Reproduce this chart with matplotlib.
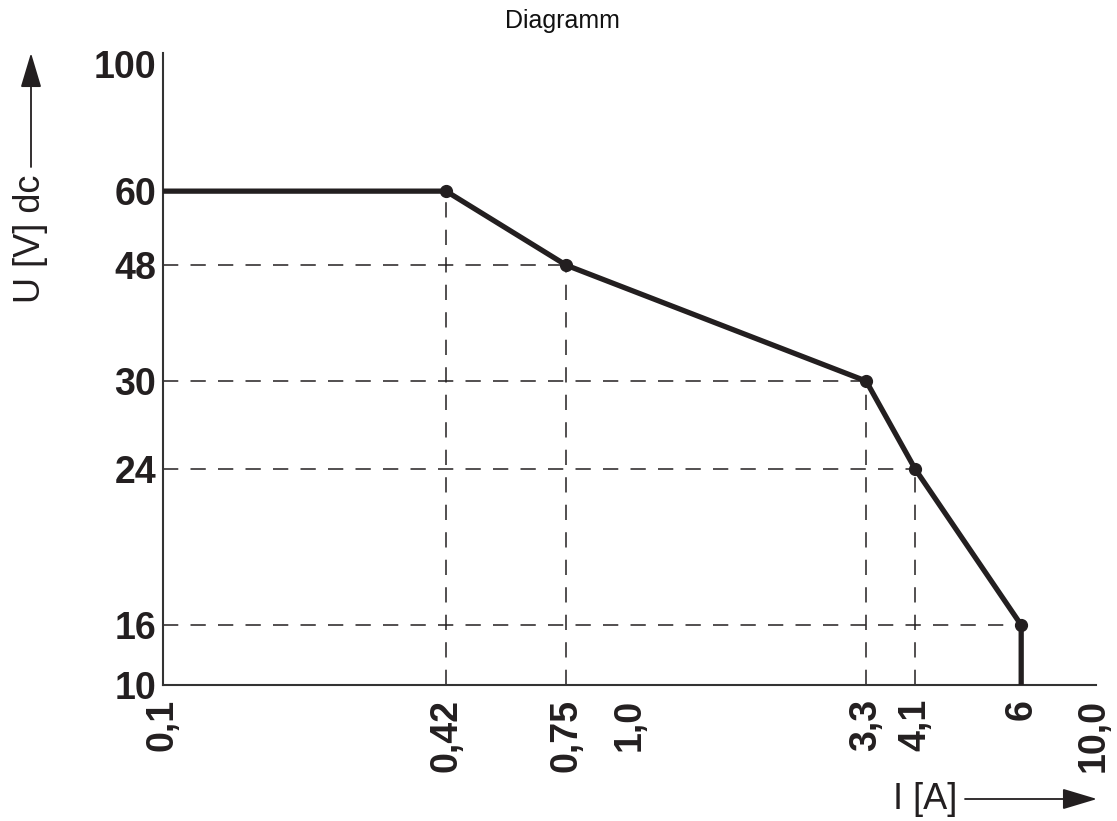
import numpy as np
import matplotlib.pyplot as plt
from matplotlib.patches import FancyArrowPatch
from matplotlib.ticker import FixedLocator, FixedFormatter

# derating curve U over I
current = [0.1, 0.42, 0.75, 3.3, 4.1, 6.0, 6.0]
voltage = [60, 60, 48, 30, 24, 16, 10]

# corner points that get guide lines / dots
guide_i = [0.42, 0.75, 3.3, 4.1, 6.0]
guide_u = [60, 48, 30, 24, 16]

x_ticks = [0.1, 0.42, 0.75, 1.0, 3.3, 4.1, 6.0, 10.0]
x_labels = ['0,1', '0,42', '0,75', '1,0', '3,3', '4,1', '6', '10,0']
y_ticks = [10, 16, 24, 30, 48, 60, 100]
y_labels = ['10', '16', '24', '30', '48', '60', '100']

# the drawing is not a true log grid, so calibrate the scale to it
x_cal_pos = [163, 446, 566, 630, 866, 915, 1021, 1093]
y_cal_pos = [136, 196, 352, 440, 556, 630, 757]

INK = '#231f20'


def calibrated_scale(vals, pos):
    lv = np.log10(np.asarray(vals, float))
    p = np.asarray(pos, float)
    s_lo = (p[1] - p[0]) / (lv[1] - lv[0])
    s_hi = (p[-1] - p[-2]) / (lv[-1] - lv[-2])

    def fwd(v):
        v = np.log10(np.clip(np.asarray(v, float), 1e-9, None))
        out = np.interp(v, lv, p)
        out = np.where(v < lv[0], p[0] + (v - lv[0]) * s_lo, out)
        out = np.where(v > lv[-1], p[-1] + (v - lv[-1]) * s_hi, out)
        return out

    def inv(q):
        q = np.asarray(q, float)
        out = np.interp(q, p, lv)
        out = np.where(q < p[0], lv[0] + (q - p[0]) / s_lo, out)
        out = np.where(q > p[-1], lv[-1] + (q - p[-1]) / s_hi, out)
        return 10 ** out

    return fwd, inv


W, H = 1117, 821
fig = plt.figure(figsize=(W / 100, H / 100), dpi=100)
ax = fig.add_axes([163 / W, (H - 685) / H, (1096 - 163) / W, (685 - 53) / H])

ax.set_xscale('function', functions=calibrated_scale(x_ticks, x_cal_pos))
ax.set_yscale('function', functions=calibrated_scale(y_ticks, y_cal_pos))
ax.set_xlim(0.1, 10.2)
ax.set_ylim(10, 104.6)

dash = dict(color=INK, lw=1.1, dashes=(10, 8))
for i, u in zip(guide_i, guide_u):
    ax.plot([i, i], [10, u], **dash)
    if u != 60:
        ax.plot([0.1, i], [u, u], **dash)

ax.plot(current, voltage, color=INK, lw=3.8, solid_capstyle='butt', zorder=3)
ax.plot(guide_i, guide_u, 'o', color=INK, ms=8.5, zorder=4)

for side in ['top', 'right']:
    ax.spines[side].set_visible(False)
for side in ['left', 'bottom']:
    ax.spines[side].set_linewidth(1.5)
    ax.spines[side].set_color('#333333')

ax.xaxis.set_major_locator(FixedLocator(x_ticks))
ax.xaxis.set_major_formatter(FixedFormatter(x_labels))
ax.xaxis.set_minor_locator(FixedLocator([]))
ax.yaxis.set_major_locator(FixedLocator(y_ticks))
ax.yaxis.set_major_formatter(FixedFormatter(y_labels))
ax.yaxis.set_minor_locator(FixedLocator([]))
ax.tick_params(length=0)
ax.tick_params(axis='x', pad=10)
ax.tick_params(axis='y', pad=5)

for lab in ax.get_xticklabels():
    lab.set_rotation(90)
    lab.set_fontsize(27)
    lab.set_fontweight('bold')
    lab.set_family(['Liberation Sans', 'DejaVu Sans'])
    lab.set_color(INK)
for lab in ax.get_yticklabels():
    lab.set_fontsize(27)
    lab.set_fontweight('bold')
    lab.set_family(['Liberation Sans Narrow', 'Liberation Sans', 'DejaVu Sans'])
    lab.set_color(INK)

fig.text(562 / W, 1 - 21 / H, 'Diagramm', ha='center', va='center', fontsize=18,
         family=['Liberation Sans', 'DejaVu Sans'], color='#111111')

# axis labels with arrows
fig.text(31 / W, 1 - 239 / H, 'U [V] dc', rotation=90, ha='center', va='center',
         fontsize=26, family=['Liberation Sans', 'DejaVu Sans'], color=INK)
fig.text(925 / W, 1 - 799 / H, 'I [A]', ha='center', va='center',
         fontsize=26, family=['Liberation Sans', 'DejaVu Sans'], color=INK)
arrow = dict(arrowstyle='-|>,head_length=1.2,head_width=0.36', color=INK, lw=1.3,
             shrinkA=0, shrinkB=0, mutation_scale=18, transform=fig.transFigure)
fig.add_artist(FancyArrowPatch((31 / W, 1 - 167 / H), (31 / W, 1 - 53 / H), **arrow))
fig.add_artist(FancyArrowPatch((965 / W, 1 - 799 / H), (1097 / W, 1 - 799 / H), **arrow))

plt.savefig('out.png', dpi=100)
